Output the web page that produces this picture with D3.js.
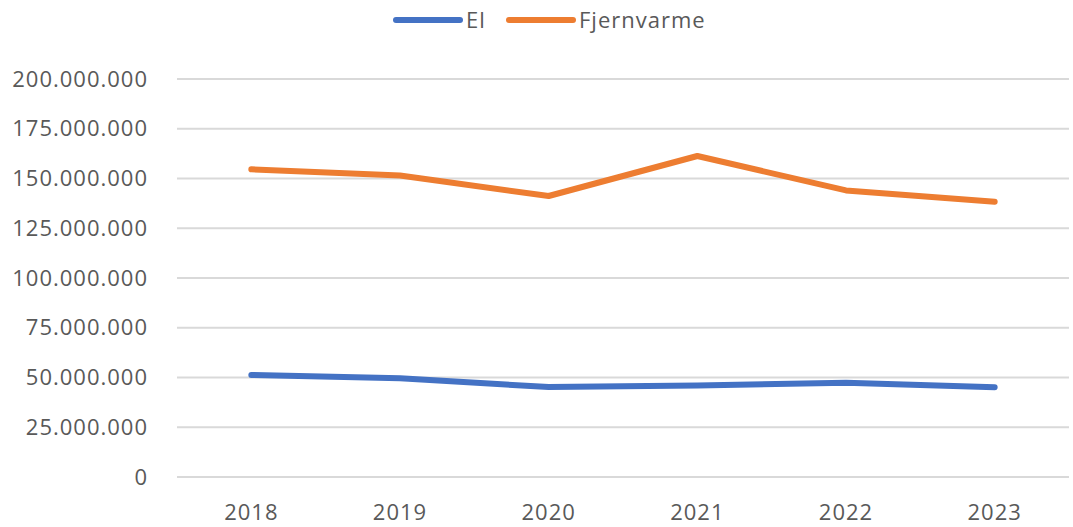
<!DOCTYPE html>
<html>
<head>
<meta charset="utf-8">
<script src="https://cdn.jsdelivr.net/npm/d3@7"></script>
<style>
  body { margin: 0; background: #fff; }
  text { font-family: "Open Sans", sans-serif; fill: #595959; }
</style>
</head>
<body>
<svg id="chart" width="1073" height="527"></svg>
<script>
// data
var years = ["2018", "2019", "2020", "2021", "2022", "2023"];
var elValues = [51300000, 49600000, 45200000, 46000000, 47300000, 45100000];
var fjernvarmeValues = [154600000, 151500000, 141200000, 161300000, 144000000, 138300000];
var yTicks = [0, 25000000, 50000000, 75000000, 100000000, 125000000, 150000000, 175000000, 200000000];
var seriesNames = ["El", "Fjernvarme"];
var seriesColors = ["#4472C4", "#ED7D31"];

var margin = {top: 79, right: 4, bottom: 50, left: 177},
  width = 1073 - margin.left - margin.right,
  height = 527 - margin.top - margin.bottom;

var svg = d3.select("#chart");
var g = svg.append("g")
  .attr("transform", "translate(" + margin.left + "," + margin.top + ")");

var x = d3.scaleBand().domain(years).range([0, width]);
var y = d3.scaleLinear().domain([0, 200000000]).range([398, 0]);

// dots as thousand separator
var fmt = function (v) {
  return d3.format(",d")(v).replace(/,/g, ".");
};

// gridlines
g.selectAll(".grid")
  .data(yTicks)
  .enter().append("line")
  .attr("x1", 0)
  .attr("x2", width)
  .attr("y1", function (d) { return y(d); })
  .attr("y2", function (d) { return y(d); })
  .attr("stroke", "#d9d9d9")
  .attr("stroke-width", 2);

// y labels
g.selectAll(".ylab")
  .data(yTicks)
  .enter().append("text")
  .attr("x", -29)
  .attr("y", function (d) { return y(d); })
  .attr("dy", "0.35em")
  .attr("text-anchor", "end")
  .style("font-size", "22px")
  .style("letter-spacing", "1px")
  .text(fmt);

// x labels
g.selectAll(".xlab")
  .data(years)
  .enter().append("text")
  .attr("x", function (d) { return x(d) + x.bandwidth() / 2; })
  .attr("y", 398 + 43)
  .attr("text-anchor", "middle")
  .style("font-size", "22px")
  .style("letter-spacing", "1px")
  .text(function (d) { return d; });

// lines
var line = d3.line()
  .x(function (d, i) { return x(years[i]) + x.bandwidth() / 2; })
  .y(function (d) { return y(d); });

[elValues, fjernvarmeValues].forEach(function (vals, i) {
  g.append("path")
    .datum(vals)
    .attr("d", line)
    .attr("fill", "none")
    .attr("stroke", seriesColors[i])
    .attr("stroke-width", 6)
    .attr("stroke-linecap", "round")
    .attr("stroke-linejoin", "round");
});

// legend
var legendX = [396, 509];
var legend = svg.selectAll(".legend")
  .data(seriesNames)
  .enter().append("g")
  .attr("transform", function (d, i) { return "translate(" + legendX[i] + ",20)"; });
legend.append("line")
  .attr("x1", 0).attr("x2", 64)
  .attr("stroke", function (d, i) { return seriesColors[i]; })
  .attr("stroke-width", 6)
  .attr("stroke-linecap", "round");
legend.append("text")
  .attr("x", 70)
  .attr("dy", "0.35em")
  .style("font-size", "22px")
  .style("letter-spacing", "1px")
  .text(function (d) { return d; });
</script>
</body>
</html>
